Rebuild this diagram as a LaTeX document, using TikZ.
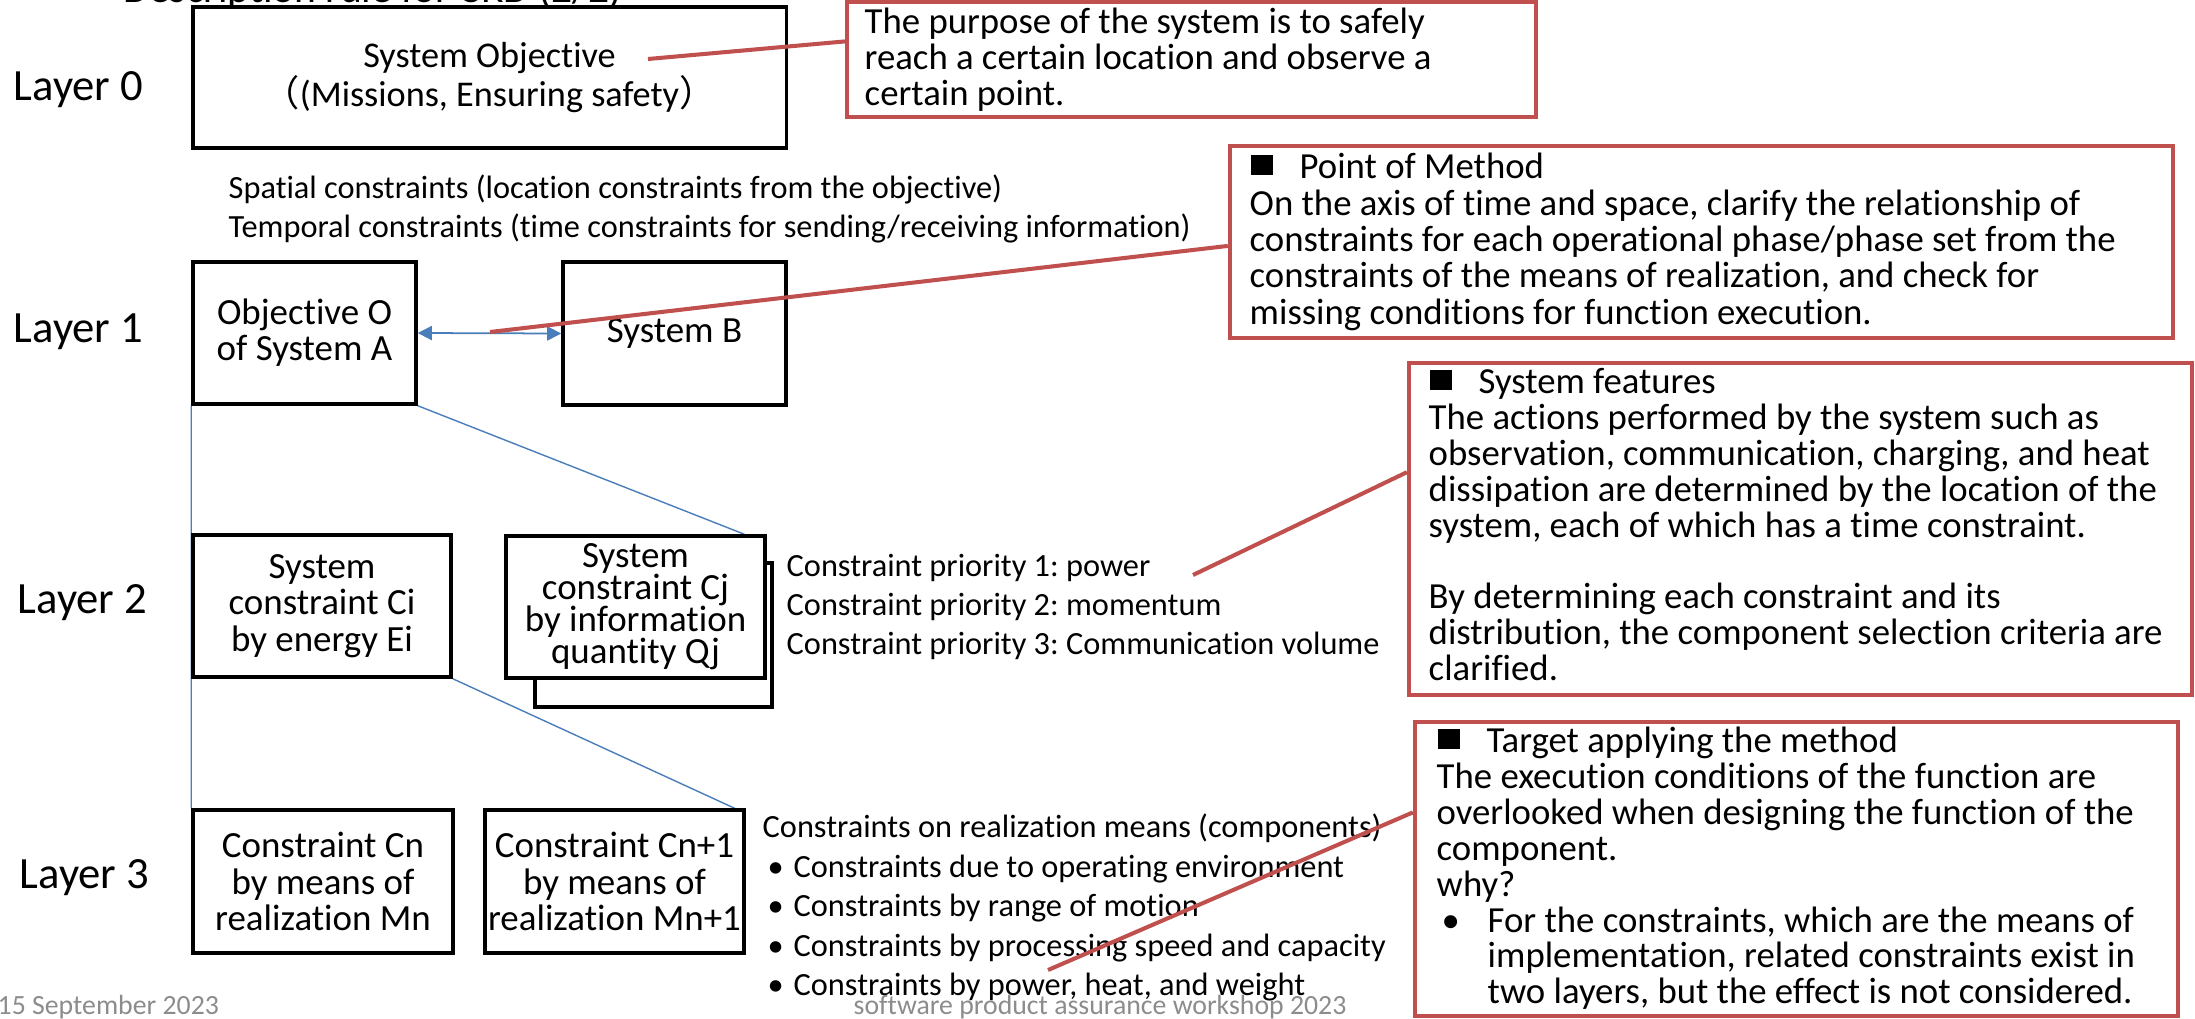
\documentclass[tikz,border=0pt]{standalone}
\usepackage{fontspec}
\setmainfont{Carlito}[Ligatures=NoCommon]
\newfontfamily\cjkfont{Noto Sans CJK JP}
\usetikzlibrary{arrows.meta,calc,backgrounds}
\frenchspacing

\definecolor{calloutred}{HTML}{C0504D}
\definecolor{linkblue}{HTML}{4A7EBB}
\definecolor{footgray}{HTML}{8C8C8C}

% font size + fixed line pitch (no extra lineskip)
\newcommand\fsz[2]{\fontsize{#1}{#2}\selectfont\lineskiplimit=-100pt\lineskip=0pt\relax}
% first-line struts so that the north anchor sits a known distance above the first baseline
\newcommand\bigstrut{\rule{0pt}{9pt}}
\newcommand\smallstrut{\rule{0pt}{8pt}}
% black square heading marker
\newcommand\headmark{\makebox[14.2pt][l]{\hspace*{0.3pt}\rule[1.1pt]{6.2pt}{5.7pt}}}

\tikzset{
  layerbox/.style={draw=black, line width=0.95pt, fill=white, inner sep=0pt,
    align=center, font=\fsz{10.5pt}{10.3pt}},
  callout/.style={draw=calloutred, line width=1.1pt, inner sep=0pt},
  note/.style={anchor=north west, inner sep=0pt, align=left, font=\fsz{10.45pt}{10.2pt}},
  plain/.style={anchor=north west, inner sep=0pt, align=left, font=\fsz{9.2pt}{11.1pt}},
  layerlabel/.style={anchor=base west, inner sep=0pt, font=\fsz{12.7pt}{14pt}},
  foot/.style={anchor=base west, inner sep=0pt, text=footgray, font=\fsz{7.9pt}{9pt}},
  bluelink/.style={draw=linkblue, line width=0.4pt},
  redlink/.style={draw=calloutred, line width=1.15pt},
}

\begin{document}
\begin{tikzpicture}[x=0.01cm, y=-0.01cm]
\useasboundingbox (0,0) rectangle (2195,1018);

% heading (runs off the top edge)
\node[anchor=base west, inner sep=0pt, font=\fsz{11.8pt}{12pt}] (title) at (123,2) {Description rule for CRD (2/2)};

% layer labels
\node[layerlabel] (lay0) at (13,100) {Layer 0};
\node[layerlabel] (lay1) at (13,342) {Layer 1};
\node[layerlabel] (lay2) at (17,613) {Layer 2};
\node[layerlabel] (lay3) at (19,888) {Layer 3};

% layer 0
\node[layerbox, minimum width=5.93cm, minimum height=1.41cm, font=\fsz{10.3pt}{11.1pt}] (l0box) at (489.5,77.5)
  {System Objective\\{\cjkfont （}(Missions, Ensuring safety{\cjkfont ）}};

\node[plain] (spatial) at (228,169.9) {\smallstrut Spatial constraints (location constraints from the objective)\\
  Temporal constraints (time constraints for sending/receiving information)};

% layer 1
\node[layerbox, minimum width=2.23cm, minimum height=1.42cm] (obox) at (304.5,333) {Objective O\\of System A};
\node[layerbox, minimum width=2.23cm, minimum height=1.43cm] (bbox) at (674.5,333.5) {System B};

% layer 2
\node[layerbox, minimum width=2.58cm, minimum height=1.42cm] (cibox) at (322,606) {System\\constraint Ci\\by energy Ei};
\node[layerbox, minimum width=2.37cm, minimum height=1.44cm] (cjback) at (653.5,635) {};
\node[layerbox, minimum width=2.59cm, minimum height=1.42cm, font=\fsz{10.5pt}{9.1pt}] (cjfront) at (635.5,607)
  {System\\constraint Cj\\by information\\quantity Qj};

\node[plain] (prio) at (786,547.9) {\smallstrut Constraint priority 1: power\\
  Constraint priority 2: momentum\\
  Constraint priority 3: Communication volume};

% layer 3
\node[layerbox, minimum width=2.60cm, minimum height=1.43cm] (cnbox) at (323,881.5) {Constraint Cn\\by means of\\realization Mn};
\node[layerbox, minimum width=2.59cm, minimum height=1.43cm] (cn1box) at (614.5,881.5) {Constraint Cn+1\\by means of\\realization Mn+1};

\node[plain, font=\fsz{9.2pt}{11.24pt}] (means) at (762,808.9) {\smallstrut Constraints on realization means (components)\\
  \hspace*{1.4pt}\makebox[7.4pt][l]{•}Constraints due to operating environment\\
  \hspace*{1.4pt}\makebox[7.4pt][l]{•}Constraints by range of motion\\
  \hspace*{1.4pt}\makebox[7.4pt][l]{•}Constraints by processing speed and capacity\\
  \hspace*{1.4pt}\makebox[7.4pt][l]{•}Constraints by power, heat, and weight};

% hierarchy links
\begin{scope}[on background layer]
\draw[bluelink] (obox.south west) -- (cnbox.north west);
\draw[bluelink] (obox.south east) -- ($(cjfront.north west)!0.915!(cjfront.north east)$);
\draw[bluelink] (cibox.south east) -- ($(cn1box.north west)!0.958!(cn1box.north east)$);
\end{scope}
\draw[draw=linkblue, line width=0.5pt, {Triangle[length=4pt,width=4pt]}-{Triangle[length=4pt,width=4pt]}] (obox.east) -- (bbox.west);

% callouts
\node[callout, minimum width=6.89cm, minimum height=1.15cm] (c1) at (1191.5,59.5) {};
\node[note] (t1) at (864,1.4) {\bigstrut The purpose of the system is to safely\\
  reach a certain location and observe a\\
  certain point.};

\node[callout, minimum width=9.43cm, minimum height=1.92cm] (c2) at (1701.5,242) {};
\node[note, font=\fsz{10.45pt}{10.35pt}] (t2) at (1249,146.4) {\bigstrut\headmark Point of Method\\
  On the axis of time and space, clarify the relationship of\\
  constraints for each operational phase/phase set from the\\
  constraints of the means of realization, and check for\\
  missing conditions for function execution.};

\node[callout, minimum width=7.83cm, minimum height=3.32cm] (c3) at (1800.5,529) {};
\node[note] (t3) at (1428,361.4) {\bigstrut\headmark System features\\
  The actions performed by the system such as\\
  observation, communication, charging, and heat\\
  dissipation are determined by the location of the\\
  system, each of which has a time constraint.\\[10.2pt]
  By determining each constraint and its\\
  distribution, the component selection criteria are\\
  clarified.};

\node[callout, minimum width=7.63cm, minimum height=2.94cm] (c4) at (1796.5,869) {};
\node[note] (t4) at (1436,720.4) {\bigstrut\headmark Target applying the method\\
  The execution conditions of the function are\\
  overlooked when designing the function of the\\
  component.\\
  why?\\
  \hspace*{1.4pt}\makebox[13.1pt][l]{•}For the constraints, which are the means of\\
  \hspace*{14.5pt}implementation, related constraints exist in\\
  \hspace*{14.5pt}two layers, but the effect is not considered.};

% callout leaders
\coordinate (r1s) at (648,59);
\coordinate (r2s) at (490,332);
\coordinate (r3s) at (1193,575);
\coordinate (r4s) at (1048,970);
\draw[redlink] (r1s) -- ($(c1.north west)!0.348!(c1.south west)$);
\draw[redlink] (r2s) -- ($(c2.north west)!0.52!(c2.south west)$);
\draw[redlink] (r3s) -- ($(c3.north west)!0.331!(c3.south west)$);
\draw[redlink] (r4s) -- ($(c4.north west)!0.31!(c4.south west)$);

% footer
\node[foot] (date) at (-3,1014) {15 September 2023};
\node[foot] (event) at (853,1014) {software product assurance workshop 2023};
\end{tikzpicture}
\end{document}
